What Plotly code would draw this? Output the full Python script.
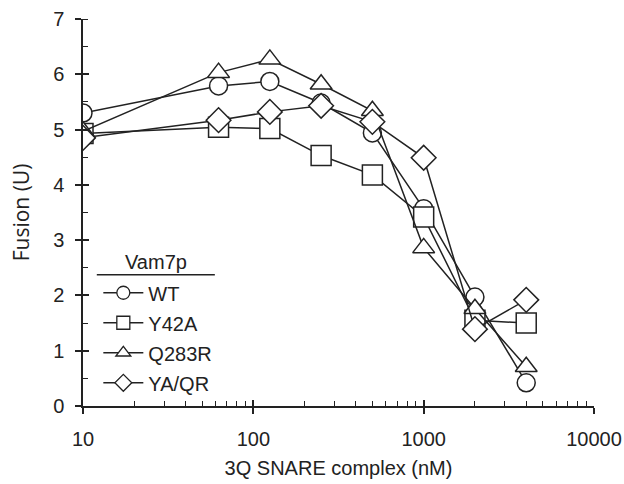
import plotly.graph_objects as go

conc = [10, 62.5, 125, 250, 500, 1000, 2000, 4000]
wt = [5.30, 5.79, 5.87, 5.48, 4.94, 3.57, 1.97, 0.42]
y42a = [4.93, 5.04, 5.02, 4.53, 4.18, 3.42, 1.55, 1.50]
q283r = [4.97, 6.03, 6.27, 5.82, 5.34, 2.86, 1.76, 0.71]
yaqr = [4.85, 5.17, 5.32, 5.43, 5.14, 4.49, 1.39, 1.92]

series = [
    ("WT", wt, "circle", 18),
    ("Y42A", y42a, "square", 20),
    ("Q283R", q283r, "triangle-up", 19),
    ("YA/QR", yaqr, "diamond", 19),
]

x_major = [10, 100, 1000, 10000]
x_minor = [m * d for d in (10, 100, 1000) for m in range(2, 10)]
y_major = [0, 1, 2, 3, 4, 5, 6, 7]

INK = "#222222"
FONT = "Liberation Sans, Arial, sans-serif"

fig = go.Figure()
for name, vals, sym, size in series:
    fig.add_trace(go.Scatter(
        x=conc, y=vals, name=name, mode="lines+markers",
        showlegend=False,
        line=dict(color=INK, width=1.5),
        marker=dict(symbol=sym, size=size, color="white",
                    line=dict(color=INK, width=1.5)),
    ))
# legend entries (smaller symbols like the reference key)
for name, vals, sym, size in series:
    fig.add_trace(go.Scatter(
        x=[None], y=[None], name=name, mode="lines+markers",
        legendgroup=name,
        line=dict(color=INK, width=1.5),
        marker=dict(symbol=sym, size=13, color="white",
                    line=dict(color=INK, width=1.3)),
    ))

fig.update_layout(
    width=624, height=484,
    margin=dict(l=83, r=30, t=19, b=78),
    paper_bgcolor="white", plot_bgcolor="white",
    font=dict(family=FONT, size=20, color=INK),
    showlegend=True,
    legend=dict(
        x=0.03, y=0.343, xanchor="left", yanchor="top",
        bgcolor="rgba(0,0,0,0)",
        font=dict(size=20, family=FONT, color=INK),
        itemsizing="trace",
        itemwidth=40,
        tracegroupgap=1,
    ),
    xaxis=dict(
        type="log", range=[1, 4], showgrid=False, zeroline=False,
        showline=True, linecolor=INK, linewidth=1.5, automargin=False,
        tickvals=x_major, ticktext=[str(v) for v in x_major],
        ticks="outside", ticklen=6, tickwidth=1.5, tickcolor=INK,
        ticklabelstandoff=8,
        minor=dict(tickvals=x_minor, ticks="inside", ticklen=5, tickwidth=1.2, tickcolor=INK),
        title=dict(text="3Q SNARE complex (nM)", standoff=12, font=dict(size=20)),
    ),
    yaxis=dict(
        range=[0, 7], showgrid=False, zeroline=False, automargin=False,
        showline=True, linecolor=INK, linewidth=1.5,
        tickvals=y_major, ticks="outside", ticklen=6, tickwidth=1.5, tickcolor=INK,
        ticklabelstandoff=7,
        minor=dict(dtick=0.5, ticks="inside", ticklen=5, tickwidth=1.2, tickcolor=INK),
        title=dict(text="Fusion (U)", standoff=18, font=dict(size=21, family="Open Sans, sans-serif")),
    ),
    xaxis2=dict(
        type="log", range=[1, 4], overlaying="x", side="bottom", showgrid=False,
        zeroline=False, showline=False, showticklabels=False, automargin=False,
        tickvals=x_major, ticks="inside", ticklen=6, tickwidth=1.5, tickcolor=INK,
    ),
    yaxis2=dict(
        range=[0, 7], overlaying="y", side="left", showgrid=False,
        zeroline=False, showline=False, showticklabels=False, automargin=False,
        tickvals=y_major, ticks="inside", ticklen=6, tickwidth=1.5, tickcolor=INK,
    ),
)

# invisible trace to anchor overlay axes
fig.add_trace(go.Scatter(x=[10], y=[0], xaxis="x2", yaxis="y2", mode="markers",
                         marker=dict(opacity=0), showlegend=False, hoverinfo="skip"))

# legend heading and its underline
fig.add_annotation(text="Vam7p", xref="paper", yref="paper", x=0.142, y=0.372,
                   showarrow=False, font=dict(size=20, family=FONT, color=INK),
                   xanchor="center", yanchor="middle")
fig.add_shape(type="line", xref="paper", yref="paper",
              x0=0.027, x1=0.258, y0=0.339, y1=0.339,
              line=dict(color=INK, width=1.5))

fig.write_html("out.html")
